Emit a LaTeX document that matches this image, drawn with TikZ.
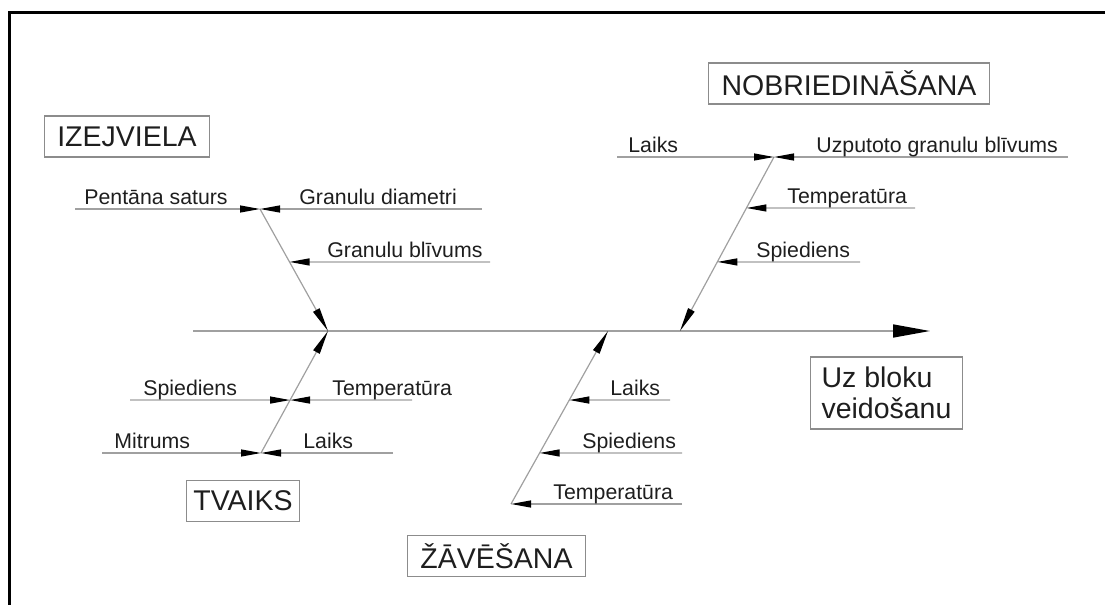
\documentclass[tikz,border=0pt]{standalone}
\usepackage{fontspec}
\setmainfont{Liberation Sans}
\usepackage{tikz}
\usetikzlibrary{arrows.meta, calc}
\definecolor{fishline}{HTML}{A0A0A0}
\definecolor{fishbox}{HTML}{8C8C8C}
\definecolor{fishink}{HTML}{1E1E1E}
\tikzset{
  rib/.style={draw=fishline, line width=0.6pt, -{Triangle[length=10pt, width=3.5pt, color=black]}},
  bone/.style={draw=fishline, line width=0.6pt, -{Triangle[length=12pt, width=3.6pt, color=black]}},
  spine/.style={draw=fishline, line width=0.8pt, -{Triangle[length=18.5pt, width=6.5pt, color=black]}},
  ribtext/.style={font=\fontsize{10.65}{12}\selectfont, text=fishink, anchor=base west, inner sep=0pt},
  causebox/.style={draw=fishbox, line width=0.6pt, font=\fontsize{14.25}{15.5}\selectfont,
    text=fishink, inner xsep=6.5pt, minimum height=20.5pt}
}
\begin{document}
\begin{tikzpicture}[x=0.5pt, y=-0.5pt]
  \useasboundingbox (0,0) rectangle (1105,605);
  \draw[line width=1.5pt] (9.5,605) -- (9.5,12) -- (1105,12);

  \node[causebox] (izejviela) at (127,136.5) {IZEJVIELA};
  \node[causebox] (nobried) at (849,83.5) {NOBRIEDINĀŠANA};
  \node[causebox, inner xsep=3.25pt] (tvaiks) at (243,501) {TVAIKS};
  \node[causebox] (zavesana) at (496.5,556) {ŽĀVĒŠANA};
  \node[causebox, align=left, inner xsep=5.5pt, minimum height=36pt] (bloki) at (886.5,393) {Uz bloku\\veidošanu};

  \coordinate (spinestart) at (193,331);
  \coordinate (spineend) at (930,331);
  \coordinate (izjtop) at (260,209);
  \coordinate (izjhit) at (328,331);
  \coordinate (tvbot) at (261,453);
  \coordinate (zvbot) at (511,504);
  \coordinate (zvhit) at (608,331);
  \coordinate (nbtop) at (774,157);
  \coordinate (nbhit) at (680,331);

  \coordinate (izjmid) at ($(izjtop)!0.434!(izjhit)$);
  \coordinate (tvmid) at ($(tvbot)!0.434!(izjhit)$);
  \coordinate (zvup) at ($(zvbot)!0.601!(zvhit)$);
  \coordinate (zvmid) at ($(zvbot)!0.295!(zvhit)$);
  \coordinate (nbup) at ($(nbtop)!0.293!(nbhit)$);
  \coordinate (nbmid) at ($(nbtop)!0.603!(nbhit)$);

  \coordinate (pentana) at (75,209);
  \coordinate (diametri) at (482,209);
  \coordinate (blivums) at (490,262);
  \coordinate (tvspied) at (130,400);
  \coordinate (tvtemp) at (412,400);
  \coordinate (mitrums) at (102,453);
  \coordinate (tvlaiks) at (393,453);
  \coordinate (zvlaiks) at (670,400);
  \coordinate (zvspied) at (682,453);
  \coordinate (zvtemp) at (682,504);
  \coordinate (nblaiks) at (617,157);
  \coordinate (uzputoto) at (1068,157);
  \coordinate (nbtemp) at (915,208);
  \coordinate (nbspied) at (860,262);

  \draw[spine] (spinestart) -- (spineend);
  \draw[bone] (izjtop) -- (izjhit);
  \draw[bone] (tvbot) -- (izjhit);
  \draw[bone] (zvbot) -- (zvhit);
  \draw[bone] (nbtop) -- (nbhit);

  \draw[rib] (pentana) -- (izjtop);
  \draw[rib] (diametri) -- (izjtop);
  \draw[rib] (blivums) -- (izjmid);
  \draw[rib] (tvspied) -- (tvmid);
  \draw[rib] (tvtemp) -- (tvmid);
  \draw[rib] (mitrums) -- (tvbot);
  \draw[rib] (tvlaiks) -- (tvbot);
  \draw[rib] (zvlaiks) -- (zvup);
  \draw[rib] (zvspied) -- (zvmid);
  \draw[rib] (zvtemp) -- (zvbot);
  \draw[rib] (nblaiks) -- (nbtop);
  \draw[rib] (uzputoto) -- (nbtop);
  \draw[rib] (nbtemp) -- (nbup);
  \draw[rib] (nbspied) -- (nbmid);

  \node[ribtext] (lpentana) at (84,204.5) {Pentāna saturs};
  \node[ribtext] (ldiametri) at (299,204.5) {Granulu diametri};
  \node[ribtext] (lblivums) at (327,257.5) {Granulu blīvums};
  \node[ribtext] (ltvspied) at (143,395.5) {Spiediens};
  \node[ribtext] (ltvtemp) at (332,395.5) {Temperatūra};
  \node[ribtext] (lmitrums) at (114,448.5) {Mitrums};
  \node[ribtext] (ltvlaiks) at (303,448.5) {Laiks};
  \node[ribtext] (lzvlaiks) at (610,395.5) {Laiks};
  \node[ribtext] (lzvspied) at (582,448.5) {Spiediens};
  \node[ribtext] (lzvtemp) at (553,499.5) {Temperatūra};
  \node[ribtext] (lnblaiks) at (628,152.5) {Laiks};
  \node[ribtext] (luzputoto) at (816,152.5) {Uzputoto granulu blīvums};
  \node[ribtext] (lnbtemp) at (787,203.5) {Temperatūra};
  \node[ribtext] (lnbspied) at (756,257.5) {Spiediens};
\end{tikzpicture}
\end{document}
